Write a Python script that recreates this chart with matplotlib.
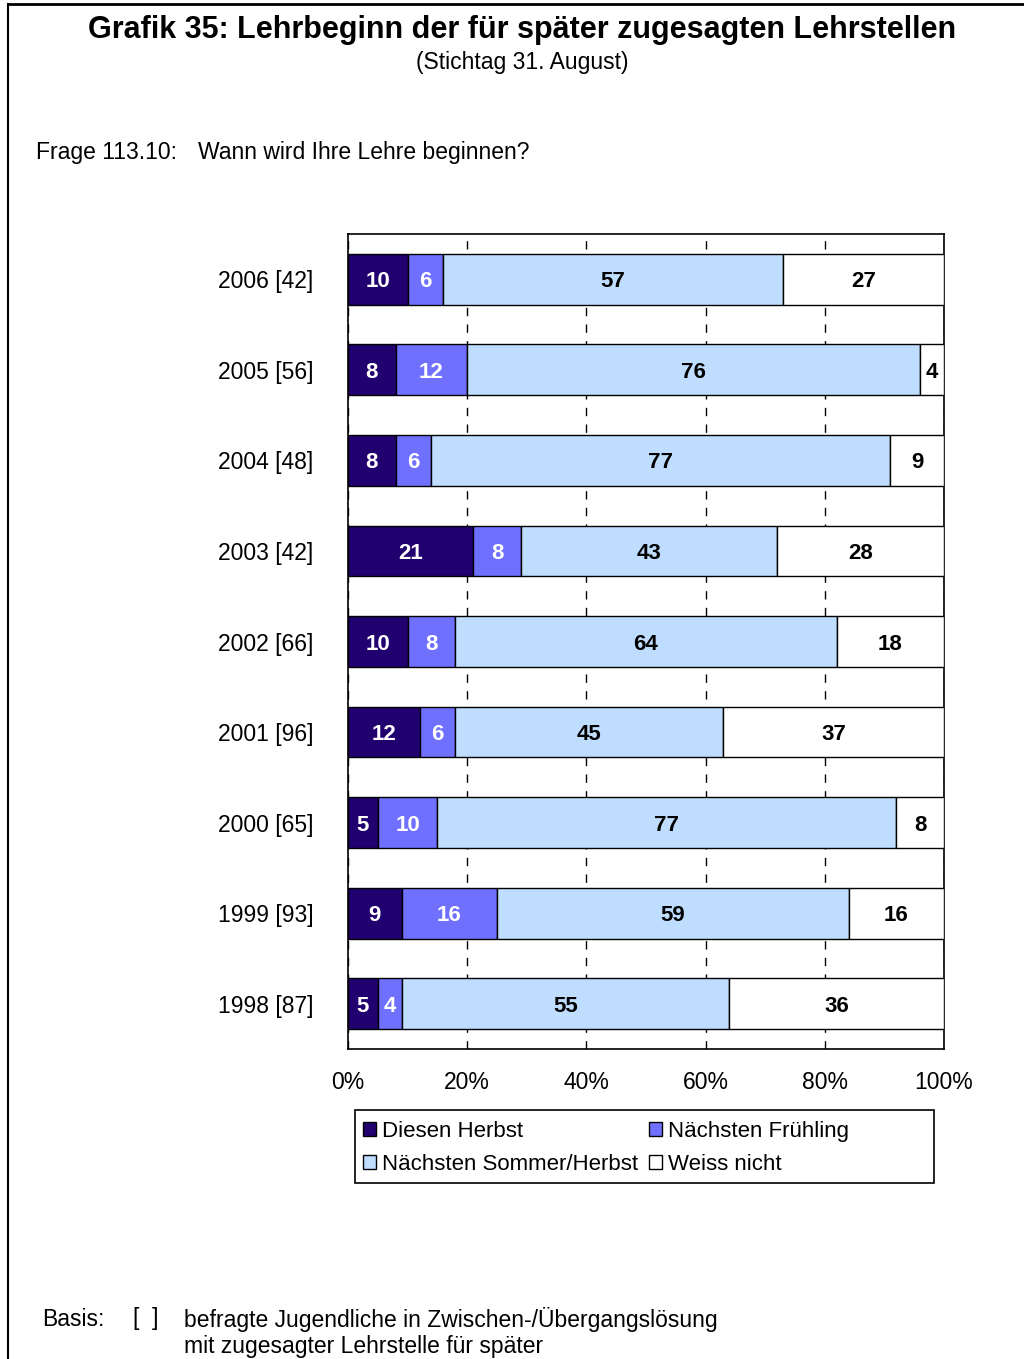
import matplotlib
matplotlib.use("Agg")
import matplotlib.pyplot as plt
import numpy as np
from matplotlib.patches import Patch, Rectangle
from matplotlib.lines import Line2D

plt.rcParams['font.family'] = ['Liberation Sans', 'DejaVu Sans']

years = ["2006 [42]", "2005 [56]", "2004 [48]", "2003 [42]", "2002 [66]",
         "2001 [96]", "2000 [65]", "1999 [93]", "1998 [87]"]
diesen_herbst = [10, 8, 8, 21, 10, 12, 5, 9, 5]
naechsten_fruehling = [6, 12, 6, 8, 8, 6, 10, 16, 4]
naechsten_sommer = [57, 76, 77, 43, 64, 45, 77, 59, 55]
weiss_nicht = [27, 4, 9, 28, 18, 37, 8, 16, 36]
series_names = ["Diesen Herbst", "Nächsten Frühling", "Nächsten Sommer/Herbst", "Weiss nicht"]
colors = ["#21006F", "#7070FF", "#BFDDFF", "#FFFFFF"]
text_colors = ["white", "white", "black", "black"]
xticks = [0, 20, 40, 60, 80, 100]

W, H = 1024, 1359
fig = plt.figure(figsize=(W / 100, H / 100), dpi=100)

def fx(px):
    return px / W

def fy(py):
    return 1 - py / H

# frame lines
fig.add_artist(Line2D([fx(8), fx(8)], [fy(4), 0], color="black", lw=1.5, transform=fig.transFigure))
fig.add_artist(Line2D([fx(8), 1], [fy(4), fy(4)], color="black", lw=2, transform=fig.transFigure))

ax = fig.add_axes([fx(348), fy(1049), fx(944) - fx(348), (1049 - 234) / H])

data = [diesen_herbst, naechsten_fruehling, naechsten_sommer, weiss_nicht]
y = np.arange(len(years))
totals = np.array(data).sum(axis=0)
left = np.zeros(len(years))
for vals, col, tcol in zip(data, colors, text_colors):
    v = np.array(vals, dtype=float)
    widths = v / totals * 100
    ax.barh(y, widths, left=left, height=0.56, color=col, edgecolor="black", linewidth=1, zorder=3)
    for yi, l, w, val in zip(y, left, widths, vals):
        ax.text(l + w / 2, yi, str(val), ha="center", va="center_baseline", color=tcol,
                fontsize=16, fontweight="bold", zorder=4)
    left += widths

ax.set_xlim(0, 100)
ax.set_ylim(len(years) - 0.5, -0.5)
ax.set_yticks(y)
ax.set_yticklabels(years, fontsize=16.5)
ax.set_xticks(xticks)
ax.set_xticklabels([f"{t}%" for t in xticks], fontsize=16.5)
ax.tick_params(axis="y", length=0, pad=25)
ax.tick_params(axis="x", length=0, pad=16)
ax.xaxis.grid(True, linestyle=(0, (6, 6)), color="black", linewidth=1, zorder=0)
ax.set_axisbelow(True)
for s in ax.spines.values():
    s.set_color("black")
    s.set_linewidth(1.2)

# titles
fig.text(fx(522), fy(30), "Grafik 35: Lehrbeginn der für später zugesagten Lehrstellen",
         ha="center", va="center", fontsize=22, fontweight="bold")
fig.text(fx(522), fy(62), "(Stichtag 31. August)", ha="center", va="center", fontsize=16.5)
fig.text(fx(36), fy(153), "Frage 113.10:", ha="left", va="center", fontsize=16.5)
fig.text(fx(198), fy(153), "Wann wird Ihre Lehre beginnen?", ha="left", va="center", fontsize=16.5)

# legend frame
fig.add_artist(Rectangle((fx(355), fy(1183)), fx(934) - fx(355), (1183 - 1110) / H,
                         transform=fig.transFigure, facecolor="none", edgecolor="black", lw=1.2))
# legend (row-wise order)
handles = [Patch(facecolor=c, edgecolor="black", label=n) for c, n in zip(colors, series_names)]
order = [0, 2, 1, 3]
leg = fig.legend(handles=[handles[i] for i in order], loc="center left",
                 bbox_to_anchor=(fx(363), fy(1148)),
                 ncol=2, fontsize=16, frameon=False,
                 handlelength=0.6, handleheight=0.6, handletextpad=0.25,
                 borderpad=0, labelspacing=0.55, columnspacing=0.5, borderaxespad=0)

# footer
fig.text(fx(42), fy(1319), "Basis:", ha="left", va="center", fontsize=16.5)
fig.text(fx(133), fy(1319), "[  ]", ha="left", va="center", fontsize=16.5)
fig.text(fx(184), fy(1319), "befragte Jugendliche in Zwischen-/Übergangslösung", ha="left", va="center", fontsize=16.5)
fig.text(fx(184), fy(1346), "mit zugesagter Lehrstelle für später", ha="left", va="center", fontsize=16.5)

fig.savefig("out.png", dpi=100)
